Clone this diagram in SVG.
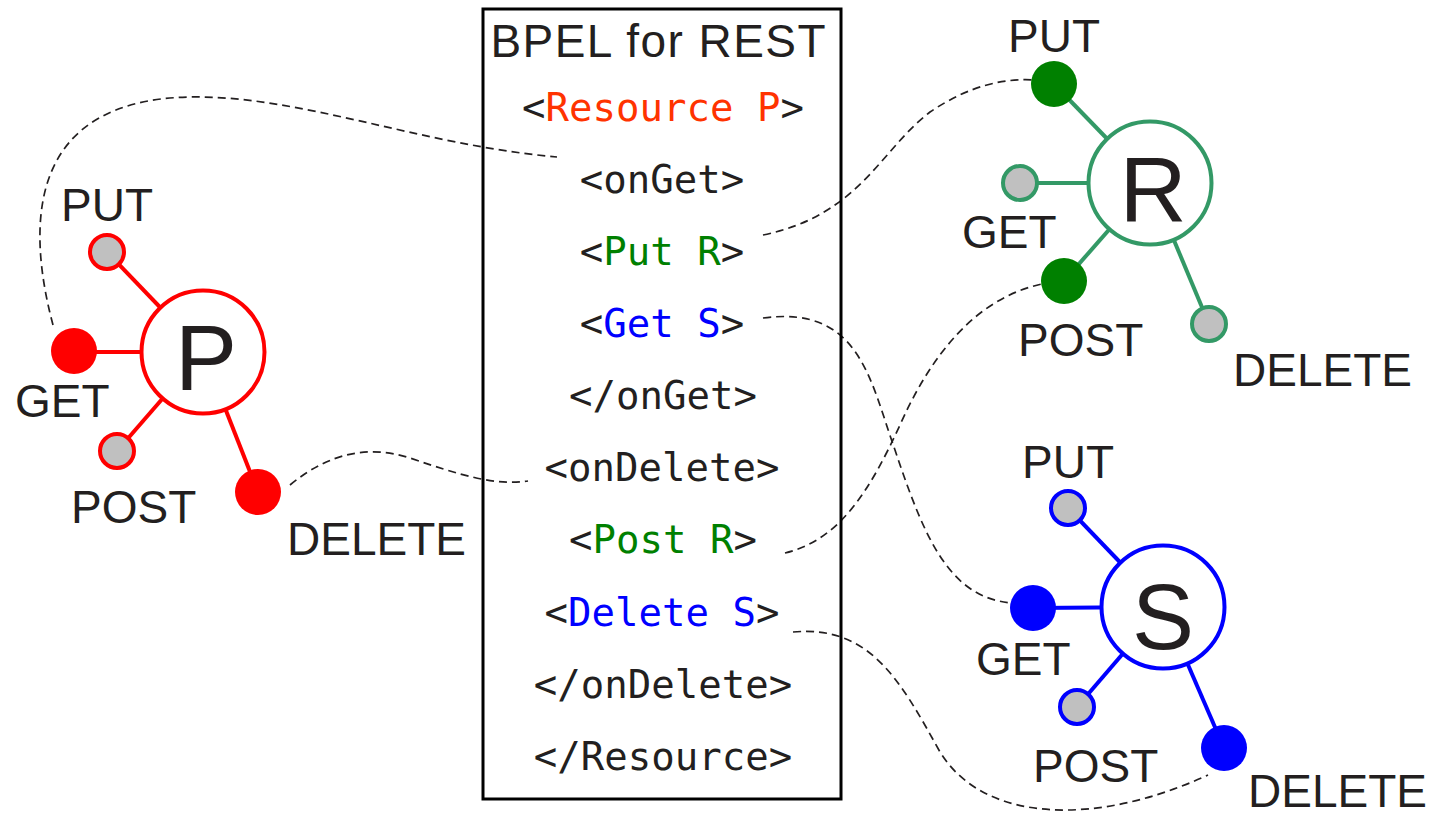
<svg xmlns="http://www.w3.org/2000/svg" width="1433" height="818" viewBox="0 0 1433 818">
<style>
.lbl{font-family:"Liberation Sans",Arial,sans-serif;font-size:46px;fill:#231f20}
.big{font-family:"Liberation Sans",Arial,sans-serif;font-size:93px;fill:#231f20;text-anchor:middle}
.code{font-family:"DejaVu Sans Mono","Liberation Mono",monospace;font-size:39px;fill:#231f20;text-anchor:middle}
.conn{fill:none;stroke:#231f20;stroke-width:1.7;stroke-dasharray:8 5}
.red{stroke:#ff0000;stroke-width:4}
.grn{stroke:#339966;stroke-width:4}
.blu{stroke:#0000ff;stroke-width:4}
.hub{fill:#ffffff}
.off{fill:#c0c0c0}
</style>
<rect width="1433" height="818" fill="#ffffff"/>
<g id="connectors">
<path class="conn" d="M 53 325 C 25 220, 30 100, 190 97 C 300 95, 420 145, 557 157"/>
<path class="conn" d="M 763 235 C 860 215, 880 150, 930 112 C 970 85, 1005 78, 1035 80"/>
<path class="conn" d="M 763 318 C 860 305, 870 380, 895 450 C 925 540, 950 598, 1012 603"/>
<path class="conn" d="M 290 485 C 330 452, 370 445, 410 458 C 460 475, 495 486, 528 481"/>
<path class="conn" d="M 785 553 C 840 540, 870 490, 900 425 C 940 335, 990 295, 1042 284"/>
<path class="conn" d="M 793 632 C 870 625, 900 680, 940 752 C 985 825, 1100 825, 1208 775"/>
</g>
<g id="bpel-box">
<rect x="483" y="9" width="358" height="790" fill="none" stroke="#000000" stroke-width="3"/>
<text class="lbl" x="658" y="57" text-anchor="middle" font-size="45" textLength="335" lengthAdjust="spacing">BPEL for REST</text>
<text class="code" x="663" y="121">&lt;<tspan fill="#ff3300">Resource P</tspan>&gt;</text>
<text class="code" x="662" y="193">&lt;onGet&gt;</text>
<text class="code" x="662" y="265">&lt;<tspan fill="#008000">Put R</tspan>&gt;</text>
<text class="code" x="662" y="337">&lt;<tspan fill="#0000ff">Get S</tspan>&gt;</text>
<text class="code" x="663" y="409">&lt;/onGet&gt;</text>
<text class="code" x="662" y="481">&lt;onDelete&gt;</text>
<text class="code" x="663" y="553">&lt;<tspan fill="#008000">Post R</tspan>&gt;</text>
<text class="code" x="662" y="626">&lt;<tspan fill="#0000ff">Delete S</tspan>&gt;</text>
<text class="code" x="663" y="698">&lt;/onDelete&gt;</text>
<text class="code" x="663" y="770">&lt;/Resource&gt;</text>
</g>
<g id="node-P">
<line class="red" x1="203" y1="352" x2="107" y2="252"/>
<line class="red" x1="203" y1="352" x2="74" y2="352"/>
<line class="red" x1="203" y1="352" x2="117" y2="451"/>
<line class="red" x1="203" y1="352" x2="258" y2="492"/>
<circle class="red hub" cx="203" cy="352" r="61.5"/>
<text class="big" x="206" y="390">P</text>
<circle class="red off" cx="107" cy="252" r="17"/>
<circle cx="74" cy="351" r="23" fill="#ff0000"/>
<circle class="red off" cx="117" cy="451" r="17"/>
<circle cx="258" cy="492" r="23" fill="#ff0000"/>
<text class="lbl" x="61" y="221">PUT</text>
<text class="lbl" x="15" y="417">GET</text>
<text class="lbl" x="71" y="523">POST</text>
<text class="lbl" x="287" y="555">DELETE</text>
</g>
<g id="node-R">
<line class="grn" x1="1150" y1="183" x2="1054" y2="84"/>
<line class="grn" x1="1150" y1="183" x2="1020" y2="183"/>
<line class="grn" x1="1150" y1="183" x2="1064" y2="281"/>
<line class="grn" x1="1150" y1="183" x2="1209" y2="324"/>
<circle class="grn hub" cx="1150" cy="183" r="61.5"/>
<text class="big" x="1153" y="222">R</text>
<circle cx="1054" cy="84" r="23" fill="#008000"/>
<circle class="grn off" cx="1020" cy="183" r="17"/>
<circle cx="1064" cy="281" r="23" fill="#008000"/>
<circle class="grn off" cx="1209" cy="324" r="17"/>
<text class="lbl" x="1008" y="52">PUT</text>
<text class="lbl" x="962" y="248">GET</text>
<text class="lbl" x="1018" y="356">POST</text>
<text class="lbl" x="1233" y="386">DELETE</text>
</g>
<g id="node-S">
<line class="blu" x1="1163" y1="607" x2="1068" y2="508"/>
<line class="blu" x1="1163" y1="607" x2="1033" y2="608"/>
<line class="blu" x1="1163" y1="607" x2="1077" y2="707"/>
<line class="blu" x1="1163" y1="607" x2="1224" y2="748"/>
<circle class="blu hub" cx="1163" cy="607" r="61.5"/>
<text class="big" x="1163" y="649">S</text>
<circle class="blu off" cx="1068" cy="508" r="17"/>
<circle cx="1033" cy="608" r="23" fill="#0000ff"/>
<circle class="blu off" cx="1077" cy="707" r="17"/>
<circle cx="1224" cy="748" r="23" fill="#0000ff"/>
<text class="lbl" x="1022" y="478">PUT</text>
<text class="lbl" x="976" y="675">GET</text>
<text class="lbl" x="1033" y="782">POST</text>
<text class="lbl" x="1248" y="807">DELETE</text>
</g>
</svg>
